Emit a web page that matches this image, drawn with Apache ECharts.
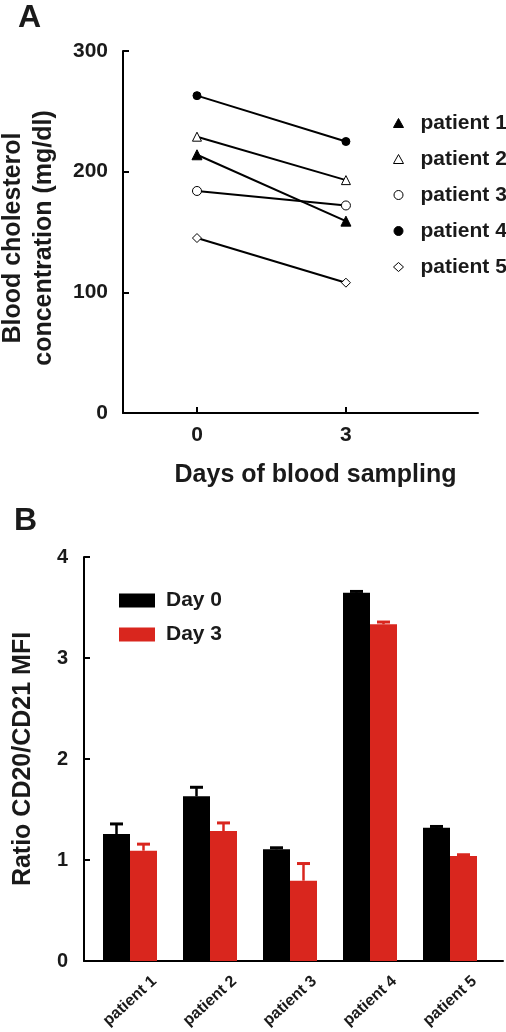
<!DOCTYPE html>
<html>
<head>
<meta charset="utf-8">
<script src="https://cdn.jsdelivr.net/npm/echarts@6/dist/echarts.min.js"></script>
<style>
html,body{margin:0;padding:0;background:#fff;}
#chart{width:506px;height:1032px;}
</style>
</head>
<body>
<div id="chart"></div>
<script>
// ---------- Panel A data ----------
const days = [0, 3];
const patientNames = ['patient 1', 'patient 2', 'patient 3', 'patient 4', 'patient 5'];
const cholP1 = [214, 159];
const cholP2 = [229, 193];
const cholP3 = [184, 172];
const cholP4 = [263, 225];
const cholP5 = [145, 108];
// ---------- Panel B data ----------
const barCategories = ['patient 1', 'patient 2', 'patient 3', 'patient 4', 'patient 5'];
const day0Ratio = [1.257, 1.63, 1.106, 3.647, 1.32];
const day0Err   = [0.10, 0.09, 0.015, 0.012, 0.012];
const day3Ratio = [1.092, 1.287, 0.795, 3.334, 1.04];
const day3Err   = [0.065, 0.08, 0.17, 0.022, 0.012];
const seriesNamesB = ['Day 0', 'Day 3'];

const FONT = 'Liberation Sans, Arial, sans-serif';
const TXT = '#1a1a1a';
const RED = '#d9261e';
const BAR_W = 27;

const chol = [cholP1, cholP2, cholP3, cholP4, cholP5];
const markers = [
  {symbol: 'triangle', size: 10, fill: '#000'},
  {symbol: 'triangle', size: 9, fill: '#fff'},
  {symbol: 'circle', size: 9, fill: '#fff'},
  {symbol: 'circle', size: 8, fill: '#000'},
  {symbol: 'diamond', size: 9, fill: '#fff'}
];

const lineSeries = patientNames.map((n, i) => ({
  name: n, type: 'line', xAxisIndex: 0, yAxisIndex: 0,
  data: days.map((d, j) => [d, chol[i][j]]),
  symbol: markers[i].symbol, symbolSize: markers[i].size,
  itemStyle: {color: markers[i].fill, borderColor: '#000', borderWidth: 1},
  lineStyle: {color: '#000', width: 2},
  emphasis: {disabled: true}, z: 3
}));

function idx(arr){ return arr.map((v, i) => [i, v]); }
function errSeries(name, vals, errs, offset, color){
  return {
    name: name, type: 'custom', xAxisIndex: 1, yAxisIndex: 1, z: 5,
    data: vals.map((v, i) => [i, v, errs[i]]),
    encode: {x: 0, y: 1},
    renderItem: function(params, api){
      const x = api.value(0), y = api.value(1), e = api.value(2);
      const p0 = api.coord([x, y]);
      const p1 = api.coord([x, y + e]);
      const cx = p0[0] + offset;
      return {type: 'group', children: [
        {type: 'line', shape: {x1: cx, y1: p0[1], x2: cx, y2: p1[1]}, style: {stroke: color, lineWidth: 2.5}},
        {type: 'line', shape: {x1: cx - 6.5, y1: p1[1], x2: cx + 6.5, y2: p1[1]}, style: {stroke: color, lineWidth: 3}}
      ]};
    }
  };
}

const option = {
  animation: false,
  backgroundColor: '#fff',
  textStyle: {fontFamily: FONT},
  title: [
    {text: 'A', left: 18, top: 2, padding: 0, textStyle: {fontSize: 32, fontWeight: 'bold', color: TXT, fontFamily: FONT}},
    {text: 'B', left: 14, top: 505, padding: 0, textStyle: {fontSize: 32, fontWeight: 'bold', color: TXT, fontFamily: FONT}}
  ],
  legend: [
    {
      orient: 'vertical', left: 393, top: 112, padding: 0,
      itemWidth: 10, itemHeight: 9, itemGap: 14,
      selectedMode: false,
      data: patientNames.map((n, i) => ({
        name: n, icon: markers[i].symbol,
        itemStyle: {color: markers[i].fill, borderColor: '#000', borderWidth: 1}
      })),
      textStyle: {fontSize: 21, fontWeight: 'bold', color: TXT, fontFamily: FONT, lineHeight: 22, padding: [0, 0, 0, 12]}
    },
    {
      orient: 'vertical', left: 119, top: 590, padding: 0,
      itemWidth: 36, itemHeight: 14, itemGap: 13,
      selectedMode: false,
      data: [{name: seriesNamesB[0], icon: 'rect'}, {name: seriesNamesB[1], icon: 'rect'}],
      textStyle: {fontSize: 21, fontWeight: 'bold', color: TXT, fontFamily: FONT, lineHeight: 21, padding: [0, 0, 0, 6]}
    }
  ],
  grid: [
    {left: 123, right: 28, top: 51, bottom: 619, outerBoundsMode: 'none', containLabel: false},
    {left: 84, right: 3, top: 557, bottom: 71, outerBoundsMode: 'none', containLabel: false}
  ],
  xAxis: [
    {
      gridIndex: 0, type: 'value', min: -1.49, max: 5.66,
      name: 'Days of blood sampling', nameLocation: 'middle', nameGap: 50,
      nameTextStyle: {fontSize: 25, fontWeight: 'bold', color: TXT, fontFamily: FONT, padding: [0, 0, 0, 30]},
      axisLine: {onZero: false, lineStyle: {color: '#000', width: 2}},
      axisTick: {inside: true, length: 6, lineStyle: {color: '#000', width: 2}, customValues: days},
      axisLabel: {customValues: days, margin: 12, fontSize: 21, fontWeight: 'bold', color: TXT, fontFamily: FONT},
      splitLine: {show: false}
    },
    {
      gridIndex: 1, type: 'value', min: -0.575, max: 4.6625,
      axisLine: {onZero: false, lineStyle: {color: '#000', width: 2}},
      axisTick: {show: false},
      axisLabel: {
        customValues: barCategories.map((c, i) => i),
        formatter: v => barCategories[Math.round(v)],
        rotate: 42, align: 'center', verticalAlign: 'middle', margin: 40,
        fontSize: 16, fontWeight: 'bold', color: TXT, fontFamily: FONT
      },
      splitLine: {show: false}
    }
  ],
  yAxis: [
    {
      gridIndex: 0, type: 'value', min: 0, max: 300, interval: 100,
      name: 'Blood cholesterol\nconcentration (mg/dl)', nameLocation: 'middle', nameRotate: 90, nameGap: 63,
      nameTextStyle: {fontSize: 25, fontWeight: 'bold', color: TXT, fontFamily: FONT, lineHeight: 31, padding: [0, 12, 0, 0]},
      axisLine: {show: true, onZero: false, lineStyle: {color: '#000', width: 2}},
      axisTick: {show: true, inside: true, length: 6, lineStyle: {color: '#000', width: 2}},
      axisLabel: {margin: 15, fontSize: 21, fontWeight: 'bold', color: TXT, fontFamily: FONT},
      splitLine: {show: false}
    },
    {
      gridIndex: 1, type: 'value', min: 0, max: 4, interval: 1,
      name: 'Ratio CD20/CD21 MFI', nameLocation: 'middle', nameRotate: 90, nameGap: 48,
      nameTextStyle: {fontSize: 25, fontWeight: 'bold', color: TXT, fontFamily: FONT},
      axisLine: {show: true, onZero: false, lineStyle: {color: '#000', width: 2}},
      axisTick: {show: true, inside: true, length: 6, lineStyle: {color: '#000', width: 2}},
      axisLabel: {margin: 16, fontSize: 20, fontWeight: 'bold', color: TXT, fontFamily: FONT},
      splitLine: {show: false}
    }
  ],
  series: lineSeries.concat([
    {
      name: seriesNamesB[0], type: 'bar', xAxisIndex: 1, yAxisIndex: 1,
      data: idx(day0Ratio), barWidth: BAR_W, barGap: '0%',
      itemStyle: {color: '#000'}, emphasis: {disabled: true}, z: 2
    },
    {
      name: seriesNamesB[1], type: 'bar', xAxisIndex: 1, yAxisIndex: 1,
      data: idx(day3Ratio), barWidth: BAR_W, barGap: '0%',
      itemStyle: {color: RED}, emphasis: {disabled: true}, z: 2
    },
    errSeries('err0', day0Ratio, day0Err, -BAR_W / 2, '#000'),
    errSeries('err3', day3Ratio, day3Err, BAR_W / 2, RED)
  ])
};

const chart = echarts.init(document.getElementById('chart'), null, {renderer: 'canvas'});
chart.setOption(option);
</script>
</body>
</html>
